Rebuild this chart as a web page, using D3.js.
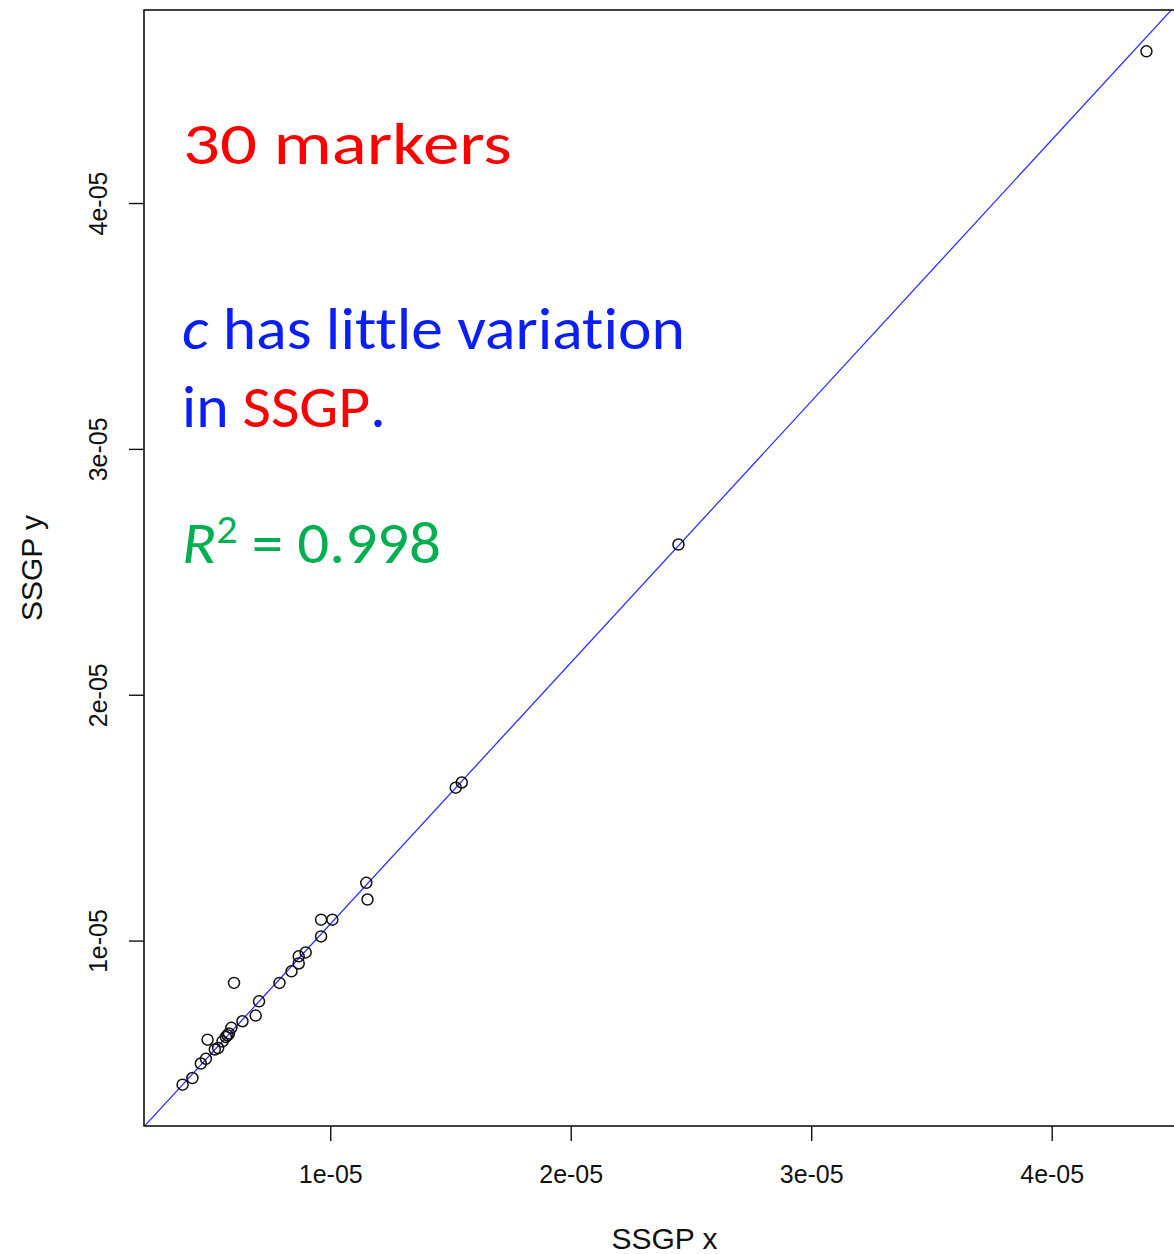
<!DOCTYPE html>
<html>
<head>
<meta charset="utf-8">
<script src="https://cdn.jsdelivr.net/npm/d3@7"></script>
<style>
  html, body { margin: 0; padding: 0; background: #fff; }
  svg { display: block; }
  .note { font-variant-ligatures: none; font-feature-settings: "liga" 0, "dlig" 0; }
</style>
</head>
<body>
<svg id="chart" width="1174" height="1254"></svg>
<script>
// SSGP estimates from the x and y runs, one pair per marker
const ssgpX = [
  1.150e-5, 1.155e-5, 0.962e-5, 1.009e-5, 0.962e-5, 0.898e-5, 0.869e-5, 0.869e-5,
  0.839e-5, 0.600e-5, 0.789e-5, 0.704e-5, 0.690e-5, 0.635e-5, 0.589e-5, 0.579e-5,
  0.573e-5, 0.566e-5, 0.552e-5, 0.490e-5, 0.534e-5, 0.520e-5, 0.483e-5, 0.462e-5,
  0.427e-5, 0.386e-5, 1.522e-5, 1.547e-5, 2.448e-5, 4.394e-5
];
const ssgpY = [
  1.235e-5, 1.167e-5, 1.085e-5, 1.085e-5, 1.017e-5, 0.952e-5, 0.936e-5, 0.907e-5,
  0.875e-5, 0.828e-5, 0.828e-5, 0.753e-5, 0.695e-5, 0.672e-5, 0.645e-5, 0.622e-5,
  0.615e-5, 0.608e-5, 0.590e-5, 0.597e-5, 0.563e-5, 0.557e-5, 0.519e-5, 0.500e-5,
  0.441e-5, 0.414e-5, 1.622e-5, 1.643e-5, 2.611e-5, 4.617e-5
];

// fitted line y = intercept + slope * x
const fitIntercept = 3.5e-8;
const fitSlope = 1.0632;

// axis ticks
const xTicks = [1e-5, 2e-5, 3e-5, 4e-5];
const xTickLabels = ["1e-05", "2e-05", "3e-05", "4e-05"];
const yTicks = [1e-5, 2e-5, 3e-5, 4e-5];
const yTickLabels = ["1e-05", "2e-05", "3e-05", "4e-05"];

const xTitle = "SSGP x";
const yTitle = "SSGP y";

const points = ssgpX.map((x, i) => ({ x, y: ssgpY[i] }));

// plot region (the right edge runs past the page)
const plot = { left: 144, right: 1185, top: 10, bottom: 1126 };

// R-style limits: data range widened by 4% on each side
function padded(ext) {
  const r = ext[1] - ext[0];
  return [ext[0] - 0.04 * r, ext[1] + 0.04 * r];
}

const x = d3.scaleLinear().domain(padded(d3.extent(ssgpX))).range([plot.left, plot.right]);
const y = d3.scaleLinear().domain(padded(d3.extent(ssgpY))).range([plot.bottom, plot.top]);

const svg = d3.select("#chart");
const axisFont = "'Liberation Sans', Arial, sans-serif";

svg.append("defs").append("clipPath").attr("id", "plotClip")
  .append("rect")
  .attr("x", plot.left).attr("y", plot.top)
  .attr("width", plot.right - plot.left).attr("height", plot.bottom - plot.top);

// fitted line
const [x0, x1] = x.domain();
svg.append("line")
  .attr("clip-path", "url(#plotClip)")
  .attr("x1", x(x0)).attr("y1", y(fitIntercept + fitSlope * x0))
  .attr("x2", x(x1)).attr("y2", y(fitIntercept + fitSlope * x1))
  .attr("stroke", "#3030ff")
  .attr("stroke-width", 1.3);

// markers
svg.append("g")
  .selectAll("circle")
  .data(points)
  .join("circle")
  .attr("cx", d => x(d.x))
  .attr("cy", d => y(d.y))
  .attr("r", 5.5)
  .attr("fill", "none")
  .attr("stroke", "#111")
  .attr("stroke-width", 1.5);

// frame
svg.append("rect")
  .attr("x", plot.left).attr("y", plot.top)
  .attr("width", plot.right - plot.left).attr("height", plot.bottom - plot.top)
  .attr("fill", "none")
  .attr("stroke", "#111")
  .attr("stroke-width", 1.6);

// bottom axis
const gx = svg.append("g")
  .attr("transform", `translate(0,${plot.bottom})`)
  .call(d3.axisBottom(x).tickValues(xTicks).tickSize(15).tickFormat((d, i) => xTickLabels[i]));
gx.select(".domain").remove();
gx.selectAll(".tick line").attr("stroke", "#111").attr("stroke-width", 1.4);
gx.selectAll(".tick text")
  .attr("y", 57).attr("dy", 0)
  .attr("font-family", axisFont).attr("font-size", 25).attr("fill", "#111");

// left axis, labels parallel to the axis
const gy = svg.append("g")
  .attr("transform", `translate(${plot.left},0)`)
  .call(d3.axisLeft(y).tickValues(yTicks).tickSize(15).tickFormat((d, i) => yTickLabels[i]));
gy.select(".domain").remove();
gy.selectAll(".tick line").attr("stroke", "#111").attr("stroke-width", 1.4);
gy.selectAll(".tick text")
  .attr("x", 0).attr("y", 0).attr("dy", 0)
  .attr("text-anchor", "middle")
  .attr("transform", "translate(-37,0) rotate(-90)")
  .attr("font-family", axisFont).attr("font-size", 25).attr("fill", "#111");

// axis titles
svg.append("text")
  .attr("x", (plot.left + plot.right) / 2).attr("y", 1249)
  .attr("text-anchor", "middle")
  .attr("font-family", axisFont).attr("font-size", 30).attr("fill", "#111")
  .text(xTitle);

svg.append("text")
  .attr("transform", `translate(42,${(plot.top + plot.bottom) / 2}) rotate(-90)`)
  .attr("text-anchor", "middle")
  .attr("font-family", axisFont).attr("font-size", 30).attr("fill", "#111")
  .text(yTitle);

// annotations
const noteFont = "Carlito, Calibri, Lato, 'Noto Sans', sans-serif";
const red = "#ff0000", blue = "#0a1ef5", green = "#00b050";

function note(left, baseline, width, parts) {
  const t = svg.append("text")
    .attr("class", "note")
    .attr("x", left).attr("y", baseline)
    .attr("font-family", noteFont).attr("font-size", 60);
  parts.forEach(p => {
    const s = t.append("tspan").text(p.text).attr("fill", p.color);
    if (p.italic) s.attr("font-style", "italic");
    if (p.sup) s.attr("font-size", 40).attr("baseline-shift", "20");
  });
  // stretch horizontally to the set width, keeping glyph height
  const b = t.node().getBBox();
  const sx = width / b.width;
  t.attr("transform", `translate(${left},0) scale(${sx},1) translate(${-left},0)`);
  return t;
}

note(183, 164, 329, [{ text: "30 markers", color: red }]);
note(182, 349, 503, [
  { text: "c", color: blue, italic: true },
  { text: " has little variation", color: blue }
]);
note(182, 427, 196, [
  { text: "in ", color: blue },
  { text: "SSGP", color: red },
  { text: ".", color: blue }
]);
note(182, 563, 259, [
  { text: "R", color: green, italic: true },
  { text: "2", color: green, sup: true },
  { text: " = 0.998", color: green }
]);
</script>
</body>
</html>
